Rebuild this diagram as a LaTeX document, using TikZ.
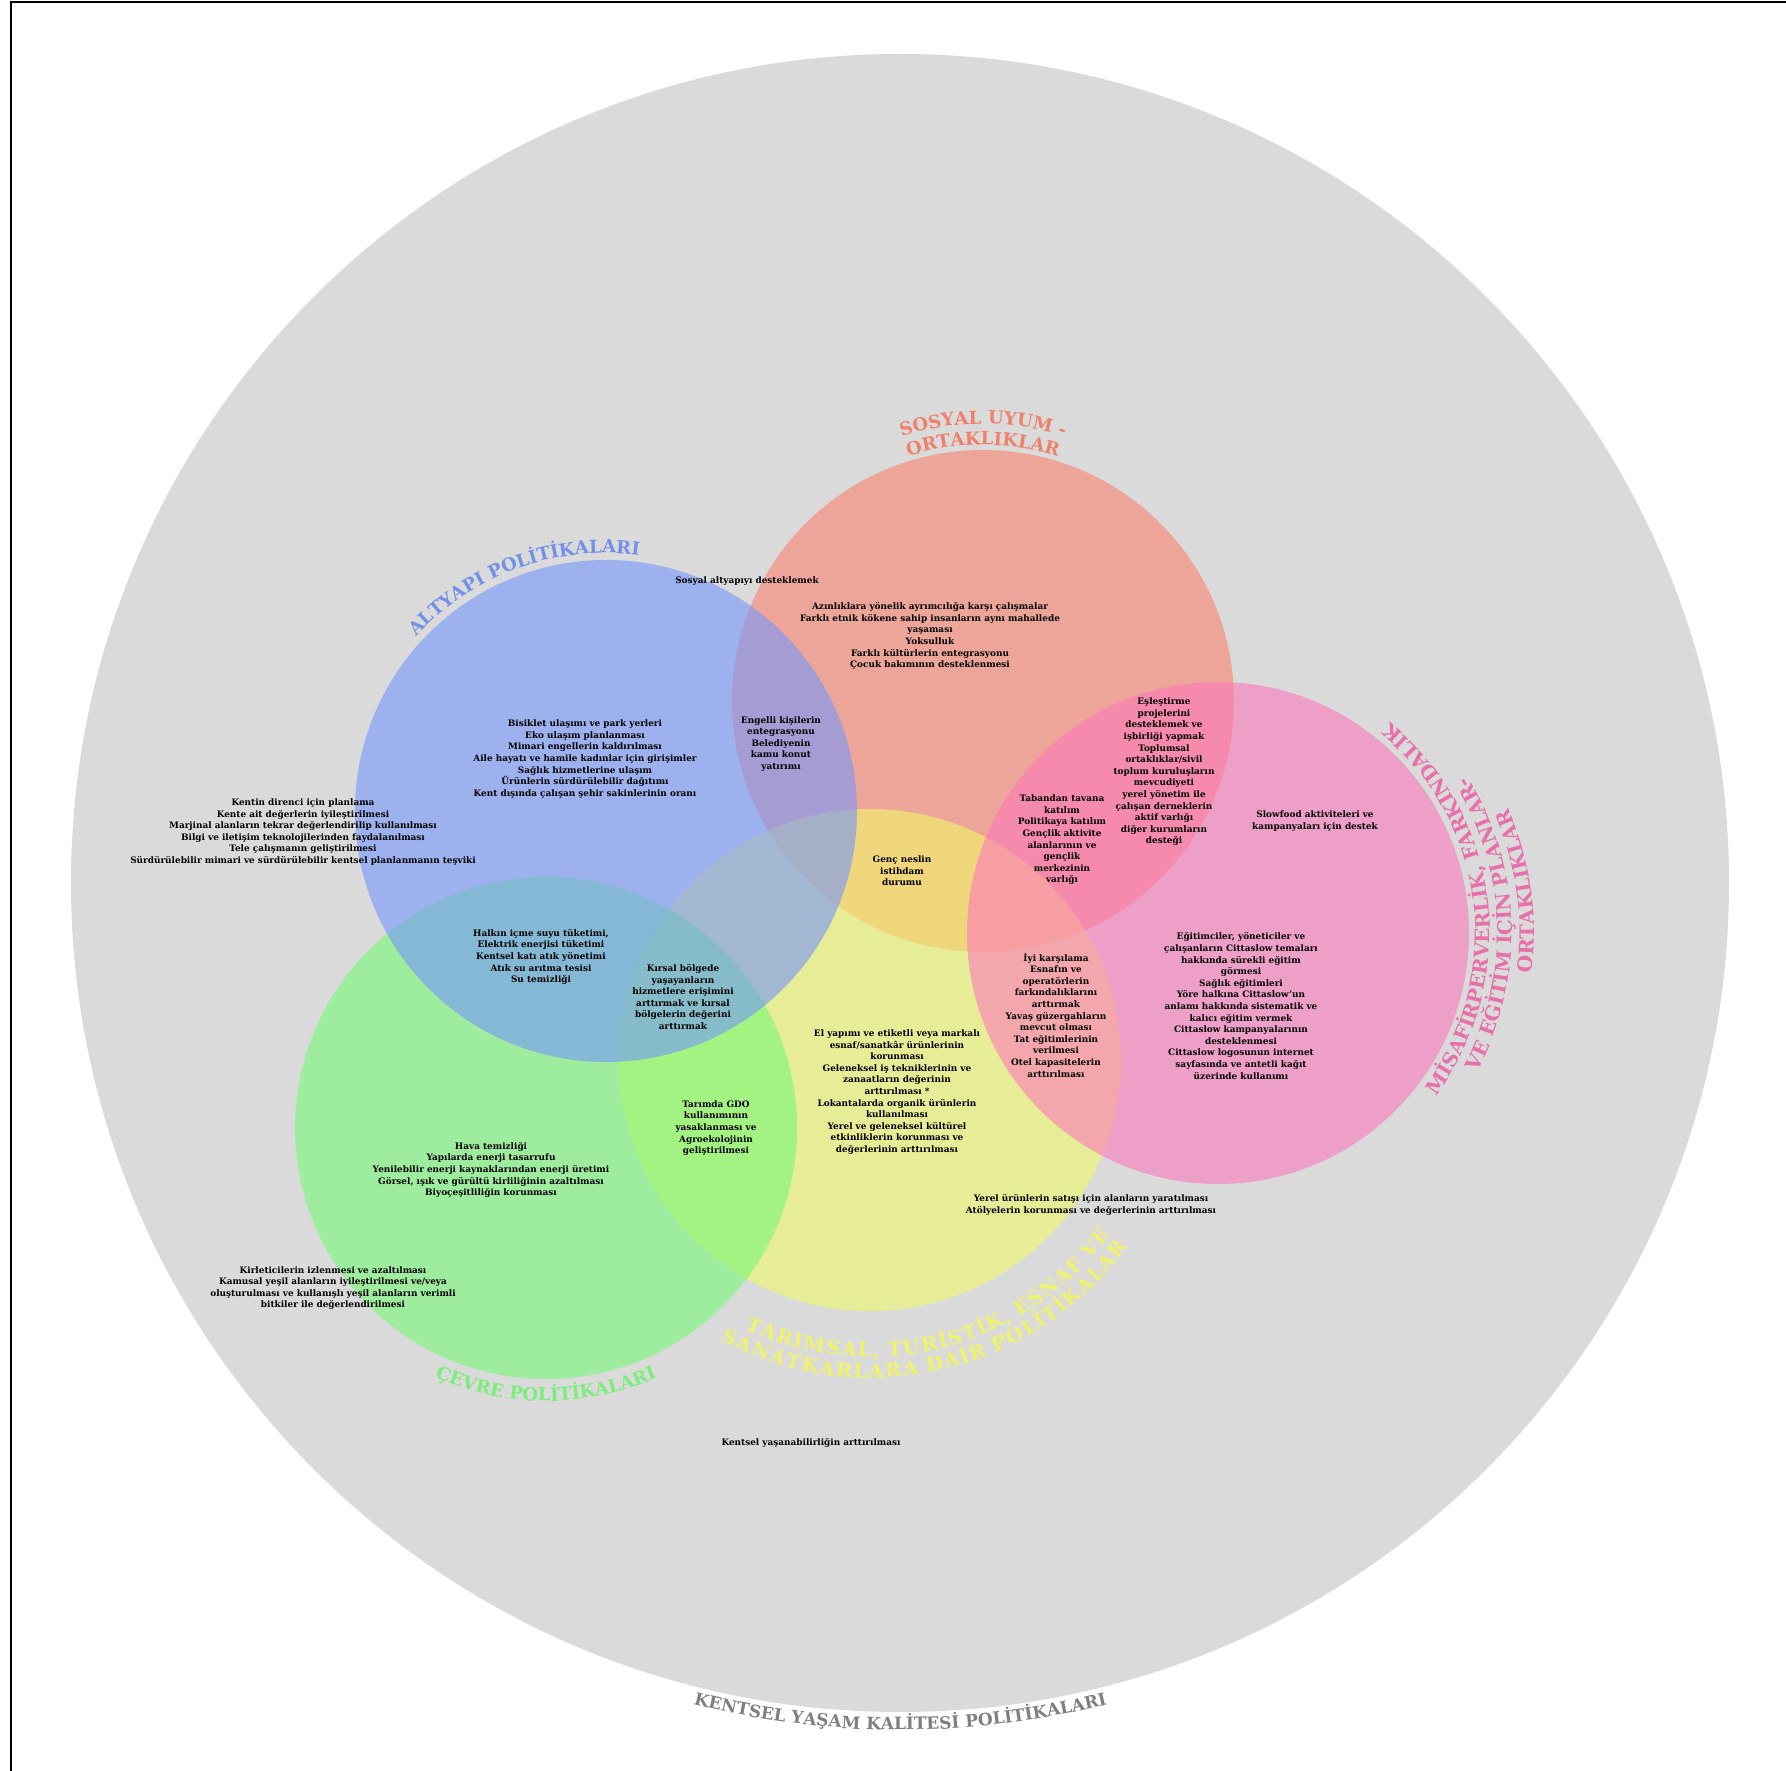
\documentclass[tikz,border=0pt]{standalone}
\usepackage{fontspec}
\setmainfont{DejaVu Serif}
\usetikzlibrary{decorations.text}
\definecolor{bggray}{HTML}{DADADA}
\definecolor{cred}{HTML}{F8836C}
\definecolor{cyel}{HTML}{F1F869}
\definecolor{cpink}{HTML}{FB79BC}
\definecolor{cgreen}{HTML}{76F876}
\definecolor{cblue}{HTML}{7496FB}
\definecolor{lblue}{HTML}{7390E8}
\definecolor{lred}{HTML}{F0806A}
\definecolor{lpink}{HTML}{E870AA}
\definecolor{lyel}{HTML}{EEF36A}
\definecolor{lgreen}{HTML}{7AEE7A}
\definecolor{lgray}{HTML}{7F7F7F}
\newcommand\headfont{\bfseries\fontsize{18}{18}\selectfont}
\newcommand\yelfont{\bfseries\fontsize{19.5}{19.5}\selectfont}
\newcommand\pinkfont{\bfseries\fontsize{20}{20}\selectfont}
\newcommand\grayfont{\bfseries\fontsize{17}{17}\selectfont}
\begin{document}
\begin{tikzpicture}[x=1pt,y=1pt,
  body/.style={font=\bfseries\fontsize{8.9}{11.6}\selectfont, align=center, inner sep=0pt, text=black},
  venn/.style={fill opacity=0.6, draw=none}]
\useasboundingbox (0,0) rectangle (1786,-1771);
\fill[white] (0,0) rectangle (1786,-1771);
\draw[line width=1.2pt] (11,-1771) -- (11,-2) -- (1786,-2);
% centres
\coordinate (cG0) at (900,-883);
\coordinate (cR) at (983,-701);
\coordinate (cY) at (870,-1060);
\coordinate (cP) at (1218,-933);
\coordinate (cGr) at (546,-1128);
\coordinate (cB) at (606,-811);
% circles
\fill[bggray] (cG0) circle[radius=829pt];
\fill[cred, venn] (cR) circle[radius=251pt];
\fill[cyel, venn] (cY) circle[radius=251pt];
\fill[cpink, venn] (cP) circle[radius=251pt];
\fill[cgreen, venn] (cGr) circle[radius=251pt];
\fill[cblue, venn] (cB) circle[radius=251pt];
% curved labels
\path[decorate, decoration={text along path, text align=center,
  text={|\headfont\color{lblue}|ALTYAPI POLİTİKALARI}}]
  (cB) ++(165:258pt) arc[start angle=165, end angle=55, radius=258pt];
\path[decorate, decoration={text along path, text align=center,
  text={|\headfont\color{lred}|SOSYAL UYUM -}}]
  (cR) ++(140:277pt) arc[start angle=140, end angle=40, radius=277pt];
\path[decorate, decoration={text along path, text align=center,
  text={|\headfont\color{lred}|ORTAKLIKLAR}}]
  (cR) ++(140:256pt) arc[start angle=140, end angle=40, radius=256pt];
\path[decorate, decoration={text along path, text align=center,
  text={|\pinkfont\color{lpink}|MİSAFİRPERVERLİK, FARKINDALIK}}]
  (cP) ++(-63:272pt) arc[start angle=-63, end angle=77, radius=272pt];
\path[decorate, decoration={text along path, text align=center,
  text={|\pinkfont\color{lpink}|VE EĞİTİM İÇİN PLANLAR-}}]
  (cP) ++(-68:294pt) arc[start angle=-68, end angle=72, radius=294pt];
\path[decorate, decoration={text along path, text align=center,
  text={|\pinkfont\color{lpink}|ORTAKLIKLAR}}]
  (cP) ++(-62:316pt) arc[start angle=-62, end angle=78, radius=316pt];
\path[decorate, decoration={text effects along path,
  text={TARIMSAL, TURİSTİK, ESNAF VE},
  text effects/.cd, text along path, fit text to path,
  characters={font=\yelfont, text=lyel}}]
  (cY) ++(-115:297pt) arc[start angle=-115, end angle=-36, radius=297pt];
\path[decorate, decoration={text effects along path,
  text={SANATKARLARA DAİR POLİTİKALAR},
  text effects/.cd, text along path, fit text to path,
  characters={font=\yelfont, text=lyel}}]
  (cY) ++(-118:318pt) arc[start angle=-118, end angle=-36, radius=318pt];
\path[decorate, decoration={text along path, text align=center,
  text={|\headfont\color{lgreen}|ÇEVRE POLİTİKALARI}}]
  (cGr) ++(-145:273pt) arc[start angle=-145, end angle=-35, radius=273pt];
\path[decorate, decoration={text along path, text align=center,
  text={|\grayfont\color{lgray}|KENTSEL YAŞAM KALİTESİ POLİTİKALARI}}]
  (cG0) ++(-125:847pt) arc[start angle=-125, end angle=-55, radius=847pt];
% body texts
\node[body] (tSosyal) at (747,-581) {Sosyal altyapıyı desteklemek};
\node[body] (tRed) at (930,-636) {Azınlıklara yönelik ayrımcılığa karşı çalışmalar\\Farklı etnik kökene sahip insanların aynı mahallede\\yaşaması\\Yoksulluk\\Farklı kültürlerin entegrasyonu\\Çocuk bakımının desteklenmesi};
\node[body] (tBlue) at (585,-759) {Bisiklet ulaşımı ve park yerleri\\Eko ulaşım planlanması\\Mimari engellerin kaldırılması\\Aile hayatı ve hamile kadınlar için girişimler\\Sağlık hizmetlerine ulaşım\\Ürünlerin sürdürülebilir dağıtımı\\Kent dışında çalışan şehir sakinlerinin oranı};
\node[body] (tBR) at (781,-744) {Engelli kişilerin\\entegrasyonu\\Belediyenin\\kamu konut\\yatırımı};
\node[body] (tLeft) at (303,-832) {Kentin direnci için planlama\\Kente ait değerlerin iyileştirilmesi\\Marjinal alanların tekrar değerlendirilip kullanılması\\Bilgi ve iletişim teknolojilerinden faydalanılması\\Tele çalışmanın geliştirilmesi\\Sürdürülebilir mimari ve sürdürülebilir kentsel planlanmanın teşviki};
\node[body] (tRP) at (1164,-772) {Eşleştirme\\projelerini\\desteklemek ve\\işbirliği yapmak\\Toplumsal\\ortaklıklar/sivil\\toplum kuruluşların\\mevcudiyeti\\yerel yönetim ile\\çalışan derneklerin\\aktif varlığı\\diğer kurumların\\desteği};
\node[body] (tRPY) at (1062,-840) {Tabandan tavana\\katılım\\Politikaya katılım\\Gençlik aktivite\\alanlarının ve\\gençlik\\merkezinin\\varlığı};
\node[body] (tPink1) at (1315,-821) {Slowfood aktiviteleri ve\\kampanyaları için destek};
\node[body] (tPink2) at (1241,-1006) {Eğitimciler, yöneticiler ve\\çalışanların Cittaslow temaları\\hakkında sürekli eğitim\\görmesi\\Sağlık eğitimleri\\Yöre halkına Cittaslow'un\\anlamı hakkında sistematik ve\\kalıcı eğitim vermek\\Cittaslow kampanyalarının\\desteklenmesi\\Cittaslow logosunun internet\\sayfasında ve antetli kağıt\\üzerinde kullanımı};
\node[body] (tGenc) at (902,-871) {Genç neslin\\istihdam\\durumu};
\node[body] (tBG) at (541,-957) {Halkın içme suyu tüketimi,\\Elektrik enerjisi tüketimi\\Kentsel katı atık yönetimi\\Atık su arıtma tesisi\\Su temizliği};
\node[body] (tBGY) at (683,-997) {Kırsal bölgede\\yaşayanların\\hizmetlere erişimini\\arttırmak ve kırsal\\bölgelerin değerini\\arttırmak};
\node[body] (tYP) at (1056,-1015) {İyi karşılama\\Esnafın ve\\operatörlerin\\farkındalıklarını\\arttırmak\\Yavaş güzergahların\\mevcut olması\\Tat eğitimlerinin\\verilmesi\\Otel kapasitelerin\\arttırılması};
\node[body] (tYel) at (897,-1092) {El yapımı ve etiketli veya markalı\\esnaf/sanatkâr ürünlerinin\\korunması\\Geleneksel iş tekniklerinin ve\\zanaatların değerinin\\arttırılması *\\Lokantalarda organik ürünlerin\\kullanılması\\Yerel ve geleneksel kültürel\\etkinliklerin korunması ve\\değerlerinin arttırılması};
\node[body] (tGY) at (716,-1128) {Tarımda GDO\\kullanımının\\yasaklanması ve\\Agroekolojinin\\geliştirilmesi};
\node[body] (tGreen) at (491,-1170) {Hava temizliği\\Yapılarda enerji tasarrufu\\Yenilebilir enerji kaynaklarından enerji üretimi\\Görsel, ışık ve gürültü kirliliğinin azaltılması\\Biyoçeşitliliğin korunması};
\node[body] (tLB) at (333,-1288) {Kirleticilerin izlenmesi ve azaltılması\\Kamusal yeşil alanların iyileştirilmesi ve/veya\\oluşturulması ve kullanışlı yeşil alanların verimli\\bitkiler ile değerlendirilmesi};
\node[body] (tYB) at (1091,-1205) {Yerel ürünlerin satışı için alanların yaratılması\\Atölyelerin korunması ve değerlerinin arttırılması};
\node[body] (tKent) at (811,-1443) {Kentsel yaşanabilirliğin arttırılması};
\end{tikzpicture}
\end{document}
